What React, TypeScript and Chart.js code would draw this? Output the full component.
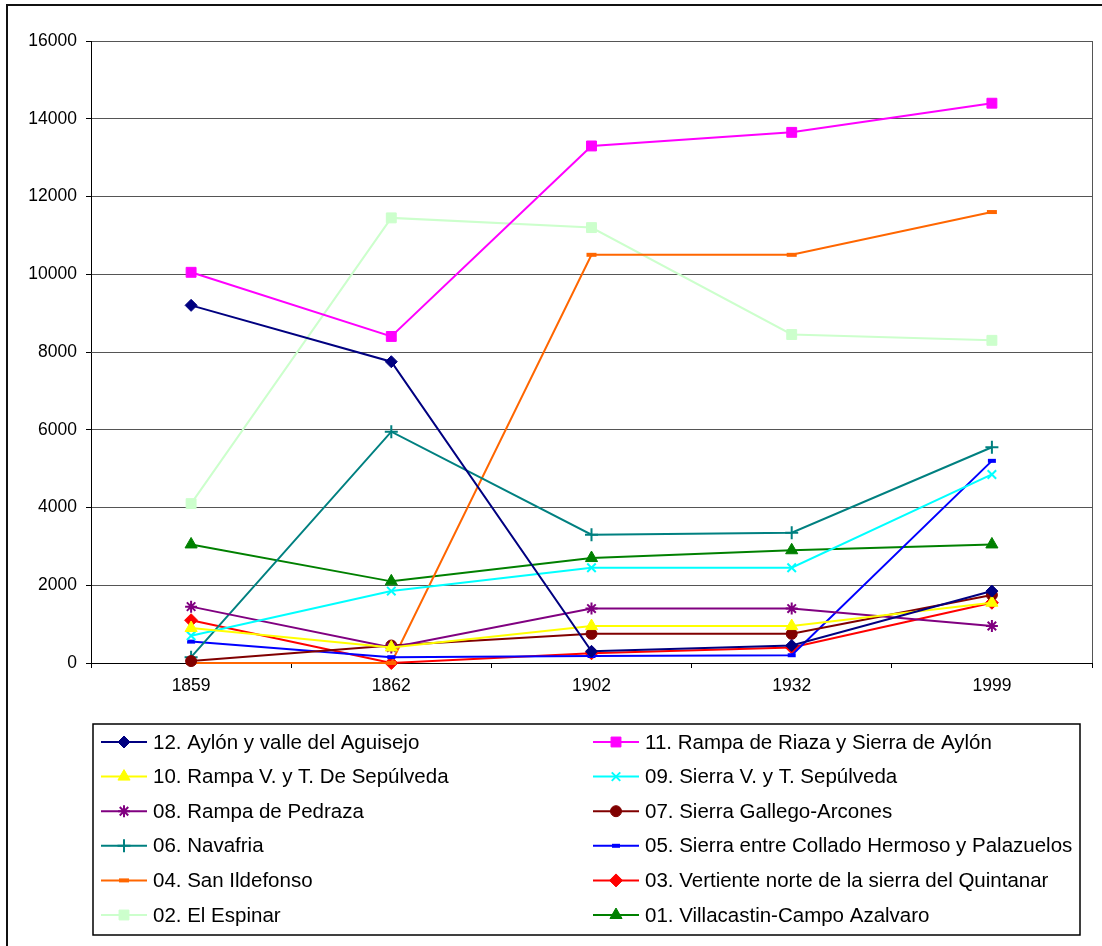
import React, { useEffect, useRef } from 'react';
import { Chart, registerables } from 'chart.js';
import { drawPoint } from 'chart.js/helpers';

Chart.register(...registerables);

// ---- data ----
const years = ['1859', '1862', '1902', '1932', '1999'];

const s12 = [9200, 7750, 300, 450, 1850];
const s11 = [10050, 8400, 13300, 13650, 14400];
const s10 = [900, 400, 950, 950, 1550];
const s09 = [700, 1850, 2450, 2450, 4850];
const s08 = [1450, 400, 1400, 1400, 950];
const s07 = [50, 450, 750, 750, 1750];
const s06 = [150, 5950, 3300, 3350, 5550];
const s05 = [550, 150, 180, 200, 5200];
const s04 = [0, 0, 10500, 10500, 11600];
const s03 = [1100, 0, 250, 400, 1550];
const s02 = [4100, 11450, 11200, 8450, 8300];
const s01 = [3050, 2100, 2700, 2900, 3050];

const seriesNames = [
  '12. Aylón y valle del Aguisejo',
  '11. Rampa de Riaza y Sierra de Aylón',
  '10. Rampa V. y T. De Sepúlveda',
  '09. Sierra V. y T. Sepúlveda',
  '08. Rampa de Pedraza',
  '07. Sierra Gallego-Arcones',
  '06. Navafria',
  '05. Sierra entre Collado Hermoso y Palazuelos',
  '04. San Ildefonso',
  '03. Vertiente norte de la sierra del Quintanar',
  '02. El Espinar',
  '01. Villacastin-Campo Azalvaro',
];
const seriesValues = [s12, s11, s10, s09, s08, s07, s06, s05, s04, s03, s02, s01];

const yMin = 0;
const yMax = 16000;
const yStep = 2000;

// ---- styles ----
const styles = [
  { color: '#000080', pointStyle: 'rectRot', radius: 6, bw: 1 },
  { color: '#FF00FF', pointStyle: 'rect', radius: 7, bw: 1 },
  { color: '#FFFF00', pointStyle: 'triangle', radius: 7, bw: 1 },
  { color: '#00FFFF', pointStyle: 'crossRot', radius: 6, bw: 2 },
  { color: '#800080', pointStyle: 'star', radius: 6, bw: 2 },
  { color: '#800000', pointStyle: 'circle', radius: 5.5, bw: 1 },
  { color: '#008080', pointStyle: 'cross', radius: 6.5, bw: 2 },
  { color: '#0000FF', pointStyle: 'line', radius: 4, bw: 4 },
  { color: '#FF6600', pointStyle: 'line', radius: 5, bw: 4 },
  { color: '#FF0000', pointStyle: 'rectRot', radius: 6.5, bw: 1 },
  { color: '#CCFFCC', pointStyle: 'rect', radius: 7, bw: 1 },
  { color: '#008000', pointStyle: 'triangle', radius: 7, bw: 1 },
];

const FONT = '"Liberation Sans", Arial, sans-serif';

const legendPlugin = {
  id: 'customLegend',
  afterDraw(chart: any) {
    const ctx = chart.ctx as CanvasRenderingContext2D;
    const boxL = 93, boxT = 724, boxR = 1080, boxB = 935;
    ctx.save();
    ctx.strokeStyle = '#000';
    ctx.lineWidth = 1.5;
    ctx.strokeRect(boxL, boxT, boxR - boxL, boxB - boxT);
    const colX = [101, 593];
    const rowY0 = 742;
    const rowH = 34.6;
    chart.data.datasets.forEach((ds: any, i: number) => {
      const st = styles[i];
      const col = i % 2;
      const row = Math.floor(i / 2);
      const x0 = colX[col];
      const y = rowY0 + row * rowH;
      ctx.strokeStyle = st.color;
      ctx.fillStyle = st.color;
      ctx.lineWidth = 2;
      ctx.beginPath();
      ctx.moveTo(x0, y);
      ctx.lineTo(x0 + 46, y);
      ctx.stroke();
      ctx.lineWidth = st.bw;
      drawPoint(ctx, { pointStyle: st.pointStyle, radius: st.radius, borderWidth: st.bw, rotation: 0 } as any, x0 + 23, y);
      ctx.fillStyle = '#000';
      ctx.font = `20.5px ${FONT}`;
      ctx.textBaseline = 'middle';
      ctx.textAlign = 'left';
      ctx.fillText(ds.label, x0 + 52, y + 1);
    });
    ctx.restore();
  },
};

const borderPlugin = {
  id: 'plotBorder',
  afterDraw(chart: any) {
    const { ctx, chartArea } = chart;
    ctx.save();
    ctx.strokeStyle = '#555';
    ctx.lineWidth = 1;
    ctx.beginPath();
    ctx.moveTo(chartArea.right + 0.5, chartArea.top);
    ctx.lineTo(chartArea.right + 0.5, chartArea.bottom);
    ctx.stroke();
    ctx.restore();
  },
};

export default function App() {
  const ref = useRef<HTMLCanvasElement | null>(null);

  useEffect(() => {
    if (!ref.current) return;
    const chart = new Chart(ref.current, {
      type: 'line',
      data: {
        labels: years,
        datasets: seriesValues.map((vals, i) => ({
          label: seriesNames[i],
          data: vals,
          borderColor: styles[i].color,
          backgroundColor: styles[i].color,
          borderWidth: 2,
          pointStyle: styles[i].pointStyle as any,
          pointRadius: styles[i].radius,
          pointBorderWidth: styles[i].bw,
          pointBackgroundColor: styles[i].color,
          pointBorderColor: styles[i].color,
          tension: 0,
          clip: false as any,
        })),
      },
      options: {
        animation: false,
        responsive: false,
        maintainAspectRatio: false,
        layout: { padding: { left: 0, top: 41, right: 10, bottom: 243 } },
        plugins: {
          legend: { display: false },
          tooltip: { enabled: false },
          title: { display: false },
        },
        scales: {
          x: {
            type: 'category',
            offset: true,
            afterFit: (s: any) => { s.height = 40; },
            grid: {
              display: true,
              drawOnChartArea: false,
              drawTicks: true,
              tickLength: 5,
              offset: true,
              color: '#000',
            },
            border: { display: true, color: '#000', width: 1 },
            ticks: {
              color: '#000',
              font: { family: FONT, size: 17.5 },
              padding: 8,
              maxRotation: 0,
            },
          },
          y: {
            min: yMin,
            max: yMax,
            afterFit: (s: any) => { s.width = 91; },
            grid: {
              color: '#555',
              lineWidth: 1,
              drawTicks: true,
              tickLength: 5,
              tickColor: '#000',
            },
            border: { display: true, color: '#000', width: 1 },
            ticks: {
              stepSize: yStep,
              color: '#000',
              font: { family: FONT, size: 17.5 },
              padding: 9,
              callback: (v: any) => String(v),
            },
          },
        },
      },
      plugins: [legendPlugin, borderPlugin],
    });
    return () => chart.destroy();
  }, []);

  return (
    <div style={{ position: 'fixed', left: 0, top: 0, width: 1102, height: 946, overflow: 'hidden', background: '#fff' }}>
      <div
        style={{
          position: 'absolute',
          left: 6,
          top: 4,
          width: 1300,
          height: 1200,
          borderLeft: '2px solid #111',
          borderTop: '2px solid #111',
          boxSizing: 'border-box',
        }}
      />
      <canvas ref={ref} width={1102} height={946} style={{ position: 'absolute', left: 0, top: 0 }} />
    </div>
  );
}
